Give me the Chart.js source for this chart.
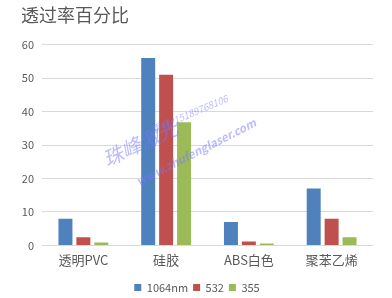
<!DOCTYPE html>
<html>
<head>
<meta charset="utf-8">
<script src="https://cdn.jsdelivr.net/npm/chart.js@4"></script>
<style>
  html, body { margin: 0; padding: 0; background: #fff; }
  #wrap { width: 392px; height: 298px; }
</style>
</head>
<body>
<div id="wrap"><canvas id="transChart" width="392" height="298"></canvas></div>
<script>
  const categories = ['透明PVC', '硅胶', 'ABS白色', '聚苯乙烯'];
  const seriesNames = ['1064nm', '532', '355'];
  const nm1064 = [8, 56, 7, 17];
  const nm532 = [2.4, 51, 1.2, 8];
  const nm355 = [0.9, 36.8, 0.6, 2.4];
  const yTicks = [0, 10, 20, 30, 40, 50, 60];

  const colors = ['#4F81BD', '#C0504D', '#9BBB59'];
  const FONT = "'Noto Sans CJK SC', 'Noto Sans', sans-serif";
  const GREY = '#595959';

  // faint watermark text over the plot
  function stamp(ctx, text, x, y, deg, font) {
    ctx.save();
    ctx.translate(x, y);
    ctx.rotate(deg * Math.PI / 180);
    ctx.font = font;
    ctx.fillText(text, 0, 0);
    ctx.restore();
  }

  const watermark = {
    id: 'watermark',
    afterDatasetsDraw(chart) {
      const ctx = chart.ctx;
      ctx.save();
      ctx.fillStyle = 'rgba(120,120,255,0.5)';
      ctx.textBaseline = 'middle';
      ctx.textAlign = 'left';
      stamp(ctx, '珠峰激光', 104, 160, -25, 'italic 20px ' + FONT);
      stamp(ctx, 'www.zhufenglaser.com', 137, 182, -27, 'italic bold 11.5px ' + FONT);
      stamp(ctx, '手机: 15189768106', 152, 130, -23, 'italic 9.5px ' + FONT);
      ctx.restore();
    }
  };

  new Chart(document.getElementById('transChart'), {
    type: 'bar',
    data: {
      labels: categories,
      datasets: [
        { label: seriesNames[0], data: nm1064, backgroundColor: colors[0] },
        { label: seriesNames[1], data: nm532, backgroundColor: colors[1] },
        { label: seriesNames[2], data: nm355, backgroundColor: colors[2] }
      ]
    },
    options: {
      responsive: false,
      animation: false,
      categoryPercentage: 0.65,
      barPercentage: 0.78,
      layout: { padding: { left: 21, right: 19, top: 0, bottom: -5 } },
      plugins: {
        title: {
          display: true,
          text: '透过率百分比',
          align: 'start',
          color: GREY,
          font: { family: FONT, size: 18, weight: 'normal' },
          padding: { top: 4, bottom: 19 }
        },
        legend: {
          position: 'bottom',
          labels: {
            color: GREY,
            boxWidth: 7,
            boxHeight: 7,
            padding: 5,
            font: { family: FONT, size: 11 }
          }
        },
        tooltip: { enabled: false }
      },
      scales: {
        x: {
          afterFit(scale) { scale.height += 2; },
          grid: { display: false, drawTicks: false },
          border: { display: false },
          ticks: {
            color: GREY,
            padding: 7,
            font: { family: FONT, size: 13 }
          }
        },
        y: {
          min: 0,
          max: 60,
          afterFit(scale) { scale.width = 21; },
          afterBuildTicks(scale) { scale.ticks = yTicks.map(v => ({ value: v })); },
          grid: { color: '#D9D9D9', drawTicks: false },
          border: { display: false },
          ticks: {
            color: GREY,
            padding: 8,
            font: { family: FONT, size: 11 }
          }
        }
      }
    },
    plugins: [watermark]
  });
</script>
</body>
</html>
